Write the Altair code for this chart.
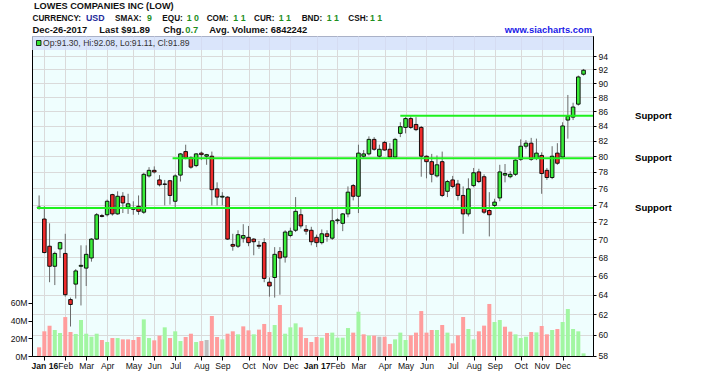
import json
import altair as alt
import numpy as np
import pandas as pd

# ---------------- data (weekly candles, first week starting 2015-12-28) ----------------
first_week = "2015-12-28"
opens = [73.7, 72.3, 69.2, 67.0, 68.9, 68.4, 63.5, 65.1, 67.0, 66.8,
         67.9, 70.0, 72.7, 72.8, 75.2, 72.9, 75.0, 73.7, 73.5, 73.8,
         73.1, 77.5, 78.2, 77.0, 76.5, 76.9, 74.4, 77.6, 80.6, 79.8,
         78.8, 80.4, 80.0, 80.0, 75.9, 74.9, 74.9, 69.4, 69.2, 70.1,
         70.2, 70.0, 69.3, 69.6, 65.3, 65.8, 68.6, 68.0, 70.4, 71.0,
         72.8, 71.1, 71.0, 70.2, 69.6, 70.6, 70.1, 72.1, 71.8, 72.9,
         76.3, 75.0, 80.0, 80.3, 82.2, 80.0, 81.8, 80.9, 79.9, 83.0,
         83.8, 85.0, 84.2, 83.8, 80.0, 79.3, 77.5, 79.3, 75.6, 77.0,
         76.5, 75.1, 72.9, 76.3, 78.0, 77.4, 73.3, 73.9, 74.8, 77.6,
         77.4, 77.7, 79.6, 81.3, 81.7, 79.7, 80.1, 78.2, 77.3, 80.4,
         79.9, 84.8, 85.2, 87.0, 91.30]
highs = [75.1, 73.8, 71.8, 68.6, 69.7, 70.6, 63.7, 66.7, 69.3, 69.3,
         70.1, 73.0, 72.9, 74.6, 75.3, 75.6, 75.5, 75.3, 74.4, 75.1,
         77.9, 78.6, 78.7, 77.6, 77.0, 77.0, 77.7, 80.4, 81.5, 80.0,
         80.4, 80.6, 80.3, 80.6, 76.7, 75.5, 75.0, 70.6, 71.0, 71.7,
         71.5, 70.1, 69.8, 70.1, 65.8, 69.1, 69.1, 71.0, 71.3, 74.9,
         73.5, 71.6, 71.4, 70.5, 71.1, 71.0, 73.6, 72.4, 73.0, 76.2,
         76.5, 81.5, 80.8, 82.6, 82.5, 81.5, 82.0, 81.7, 82.4, 84.5,
         85.2, 85.3, 85.2, 84.0, 80.1, 80.3, 80.1, 80.6, 77.0, 77.5,
         77.0, 76.2, 77.2, 78.5, 78.4, 77.7, 75.5, 74.7, 78.9, 79.0,
         78.1, 79.6, 82.2, 82.1, 82.4, 82.3, 80.5, 78.5, 81.3, 81.7,
         84.5, 88.3, 87.2, 91.1, 92.08]
lows = [73.4, 68.4, 65.3, 65.0, 67.9, 63.8, 60.8, 63.6, 62.9, 64.9,
        67.5, 69.9, 72.5, 72.6, 72.7, 72.8, 73.0, 72.9, 72.8, 72.8,
        72.9, 77.3, 77.8, 76.2, 73.9, 74.0, 73.7, 76.8, 79.6, 78.4,
        78.6, 79.5, 78.9, 73.9, 73.9, 73.9, 69.9, 68.7, 69.0, 69.6,
        69.2, 68.2, 68.9, 65.3, 63.8, 63.7, 64.0, 67.4, 70.2, 70.8,
        71.2, 70.5, 69.3, 69.1, 69.4, 69.7, 69.9, 71.7, 70.9, 72.5,
        74.5, 73.0, 79.8, 80.1, 80.7, 79.8, 80.7, 79.7, 79.7, 82.5,
        83.0, 83.6, 83.3, 77.4, 77.2, 76.7, 77.3, 74.9, 74.9, 76.0,
        74.5, 70.6, 72.6, 76.1, 76.6, 72.9, 70.3, 73.7, 74.4, 76.7,
        77.2, 77.5, 79.4, 81.0, 79.4, 79.5, 75.3, 77.0, 77.1, 78.9,
        79.7, 82.3, 84.8, 86.8, 91.11]
closes = [73.6, 68.5, 67.0, 68.4, 69.6, 64.0, 63.0, 66.5, 67.1, 68.3,
          70.0, 72.8, 72.6, 74.4, 72.9, 75.0, 74.2, 74.1, 73.45, 73.2,
          77.7, 78.2, 78.0, 76.4, 76.45, 75.1, 77.5, 80.3, 79.8, 78.6,
          80.3, 80.2, 80.2, 75.8, 74.9, 75.0, 70.0, 69.2, 70.5, 70.4,
          69.6, 69.7, 69.2, 65.7, 64.9, 68.3, 67.9, 70.8, 70.9, 73.2,
          71.5, 70.9, 69.7, 69.6, 70.6, 70.3, 72.1, 72.2, 72.9, 75.5,
          75.0, 80.4, 80.3, 82.2, 80.9, 80.9, 80.8, 79.9, 82.2, 83.9,
          85.0, 83.8, 83.5, 80.0, 79.3, 77.7, 78.9, 75.1, 76.8, 76.2,
          75.1, 72.9, 75.9, 77.9, 76.8, 73.1, 72.8, 74.3, 78.0, 77.8,
          77.7, 79.5, 81.3, 81.7, 79.6, 80.4, 77.8, 77.3, 80.0, 79.1,
          84.0, 85.3, 86.6, 90.9, 91.89]
volumes_m = [9.8, 27.9, 34.2, 29.4, 26.0, 44.0, 27.1, 24.9, 40.7, 25.2,
             21.8, 25.2, 18.1, 15.8, 20.3, 20.3, 18.8, 18.8, 18.1, 21.5,
             41.4, 20.3, 17.7, 23.0, 32.4, 20.3, 27.9, 16.9, 21.5, 25.2,
             15.8, 16.9, 18.1, 45.2, 21.5, 18.8, 25.2, 27.9, 24.5, 33.5,
             29.0, 24.5, 29.8, 36.2, 27.1, 35.0, 57.6, 25.2, 32.4, 36.9,
             32.4, 20.3, 15.8, 21.5, 20.7, 26.0, 26.4, 20.7, 20.7, 31.6,
             26.4, 50.0, 24.5, 23.0, 23.0, 21.8, 21.8, 13.6, 18.8, 26.4,
             18.1, 23.3, 26.4, 50.8, 26.4, 29.4, 29.4, 35.0, 26.4, 14.3,
             23.3, 44.1, 30.5, 18.8, 27.9, 34.3, 58.8, 38.4, 40.7, 33.1,
             27.5, 24.5, 20.3, 21.8, 27.1, 26.7, 33.9, 24.5, 29.4, 30.5,
             38.4, 53.1, 30.5, 27.9, 3.0]

month_ticks = [1, 5, 9, 13, 18, 22, 26, 31, 35, 40, 44, 48,
               53, 57, 61, 66, 70, 74, 79, 83, 87, 92, 96, 100]
month_labels = ["Jan 16", "Feb", "Mar", "Apr", "May", "Jun", "Jul", "Aug", "Sep", "Oct", "Nov", "Dec",
                "Jan 17", "Feb", "Mar", "Apr", "May", "Jun", "Jul", "Aug", "Sep", "Oct", "Nov", "Dec"]
price_ticks = list(range(58, 96, 2))
volume_ticks = [0, 20, 40, 60]

support_levels = [73.6, 79.75, 85.4]
support_start_week = [-0.4, 25.5, 69.0]
support_names = ["Support", "Support", "Support"]

title_text = "LOWES COMPANIES INC (LOW)"
info_keys = ["CURRENCY:", "SMAX:", "EQU:", "COM:", "CUR:", "BND:", "CSH:"]
info_vals = ["USD", "9", "1 0", "1 1", "1 1", "1 1", "1 1"]
line3_parts = ["Dec-26-2017", "Last $91.89", "Chg.", "0.7", "Avg. Volume: 6842242"]
site_text = "www.siacharts.com"

# ---------------- table ----------------
n = len(closes)
df = pd.DataFrame({"i": np.arange(n), "open": opens, "high": highs, "low": lows,
                   "close": closes, "vol": volumes_m})
df["week"] = pd.date_range(first_week, periods=n, freq="7D").strftime("%Y-%m-%d")
prev_close = df["close"].shift(1).fillna(df["open"])
df["vdir"] = np.select([df["close"] > prev_close, df["close"] < prev_close], ["up", "down"], "flat")
df["cdir"] = np.where(df["close"] >= df["open"], "up", "down")
last = df.iloc[-1]
legend_text = f"Op:{last.open:.2f}, Hi:{last.high:.2f}, Lo:{last.low:.2f}, Cl:{last.close:.2f}"

# ---------------- layout / style ----------------
W, H = 561, 320
PAD_L, PAD_T = 32, 36
FONT = "Liberation Sans"

X_SCALE = alt.Scale(domain=[-0.4, 104.85], nice=False, zero=False)
PRICE_SCALE = alt.Scale(type="log", domain=[57.98, 97.1], nice=False, zero=False)
VOL_SCALE = alt.Scale(domain=[0, 361.6], nice=False, zero=True)

x_axis = alt.Axis(
    values=month_ticks,
    labelExpr=f"{json.dumps(month_labels)}[indexof({json.dumps(month_ticks)}, datum.value)]",
    grid=True, gridColor="#dadada", gridWidth=1,
    tickSize=4, tickColor="#000", domainColor="#000",
    labelFontSize=8.6, labelColor="#111", labelFont=FONT, labelPadding=1,
    labelOverlap=False, labelFlush=False, title=None,
    labelFontWeight={"condition": {"test": "datum.value == 1 || datum.value == 53", "value": "bold"},
                     "value": "normal"},
)
price_axis = alt.Axis(
    orient="right", values=price_ticks, format="d", grid=True, gridColor="#dadada",
    tickSize=3, tickColor="#000", domainColor="#000", labelFontSize=8.6, labelColor="#111",
    labelFont=FONT, labelPadding=2, labelOverlap=False, labelFlush=False, title=None,
)
vol_axis = alt.Axis(
    orient="left", values=volume_ticks, labelExpr="datum.value + 'M'", grid=False,
    tickSize=4, tickColor="#000", domainColor="#000", labelFontSize=8.6, labelColor="#111",
    labelFont=FONT, labelPadding=1, labelOverlap=False, labelFlush=False, title=None,
)

x_enc = alt.X("i:Q", scale=X_SCALE, axis=x_axis)

vol_chart = alt.Chart(df).mark_bar(width=4).encode(
    x=x_enc,
    y=alt.Y("vol:Q", scale=VOL_SCALE, axis=vol_axis),
    color=alt.Color("vdir:N", scale=alt.Scale(domain=["up", "down", "flat"],
                                              range=["#a2f6a2", "#ff9d9d", "#bebebe"]), legend=None),
)

strip = alt.Chart(pd.DataFrame({"k": [0]})).mark_rect(color="#d3dcfa", opacity=0.75).encode(
    x=alt.value(0), x2=alt.value(W), y=alt.value(0), y2=alt.value(14))
legend_sq = alt.Chart(pd.DataFrame({"k": [0]})).mark_rect(
    color="#33e633", stroke="#000", strokeWidth=0.8).encode(
    x=alt.value(4.5), x2=alt.value(9), y=alt.value(4.5), y2=alt.value(9.5))
legend_txt = alt.Chart(pd.DataFrame({"t": [legend_text]})).mark_text(
    align="left", baseline="middle", fontSize=8.6, font=FONT, color="#333").encode(
    x=alt.value(11), y=alt.value(7.3), text="t:N")

wick = alt.Chart(df).mark_rule(color="#6a6a6a", strokeWidth=1).encode(
    x=x_enc, y=alt.Y("low:Q", scale=PRICE_SCALE, axis=price_axis), y2="high:Q")
body = alt.Chart(df).mark_bar(width=3.6, stroke="#000", strokeWidth=0.9).encode(
    x=x_enc,
    y=alt.Y("open:Q", scale=PRICE_SCALE, axis=price_axis), y2="close:Q",
    color=alt.Color("cdir:N", scale=alt.Scale(domain=["up", "down"], range=["#3aec3a", "#ee2b2b"]),
                    legend=None),
)

sup_df = pd.DataFrame({"level": support_levels, "start": support_start_week, "name": support_names})
sup_line = alt.Chart(sup_df).mark_rule(color="#1ef01e", strokeWidth=2).encode(
    x=alt.X("start:Q", scale=X_SCALE, axis=x_axis), x2=alt.value(W),
    y=alt.Y("level:Q", scale=PRICE_SCALE, axis=price_axis))
sup_text = alt.Chart(sup_df).mark_text(
    align="left", baseline="middle", fontSize=9.6, fontWeight="bold", font=FONT, color="#000").encode(
    x=alt.value(635 - PAD_L), y=alt.Y("level:Q", scale=PRICE_SCALE, axis=price_axis), text="name:N")


def txt(t, x_abs, y_abs, color="#000", align="left", weight="bold", size=9.4):
    return alt.Chart(pd.DataFrame({"t": [t]})).mark_text(
        align=align, baseline="alphabetic", fontSize=size, fontWeight=weight, font=FONT, color=color
    ).encode(x=alt.value(x_abs - PAD_L), y=alt.value(y_abs - PAD_T), text="t:N")


BLACK, NAVY, GREEN, BLUE = "#111111", "#1d2a9a", "#1f8f1f", "#2020e8"
headers = [txt(title_text, 34, 9.2, BLACK, size=9.2)]
key_x = [32.5, 115, 162.3, 206.7, 254, 301.7, 348.3]
val_x = [86, 147, 186.7, 233.3, 278.7, 326.7, 370]
for i, (k, v) in enumerate(zip(info_keys, info_vals)):
    headers.append(txt(k, key_x[i], 20.8, BLACK, size=8.2))
    headers.append(txt(v, val_x[i], 20.8, NAVY if i == 0 else GREEN, size=8.8))
line3_x = [32.5, 99.3, 163.3, 185.3, 209.3]
for i, t in enumerate(line3_parts):
    headers.append(txt(t, line3_x[i], 32.8, GREEN if i == 3 else BLACK))
headers.append(txt(site_text, 592, 32.8, BLUE, align="right"))

price_layer = alt.layer(strip, legend_sq, legend_txt, wick, body, sup_line, sup_text, *headers)

chart = alt.layer(vol_chart, price_layer).resolve_scale(
    y="independent", color="independent"
).properties(
    width=W, height=H,
    padding={"left": PAD_L, "top": PAD_T, "right": 728 - PAD_L - W, "bottom": 373 - PAD_T - H},
    autosize=alt.AutoSizeParams(type="none"),
    background="#ffffff",
).configure_view(fill="#effefe", stroke="#333333", strokeWidth=1)

chart.save("out.html", embed_options={"renderer": "svg", "actions": False})
